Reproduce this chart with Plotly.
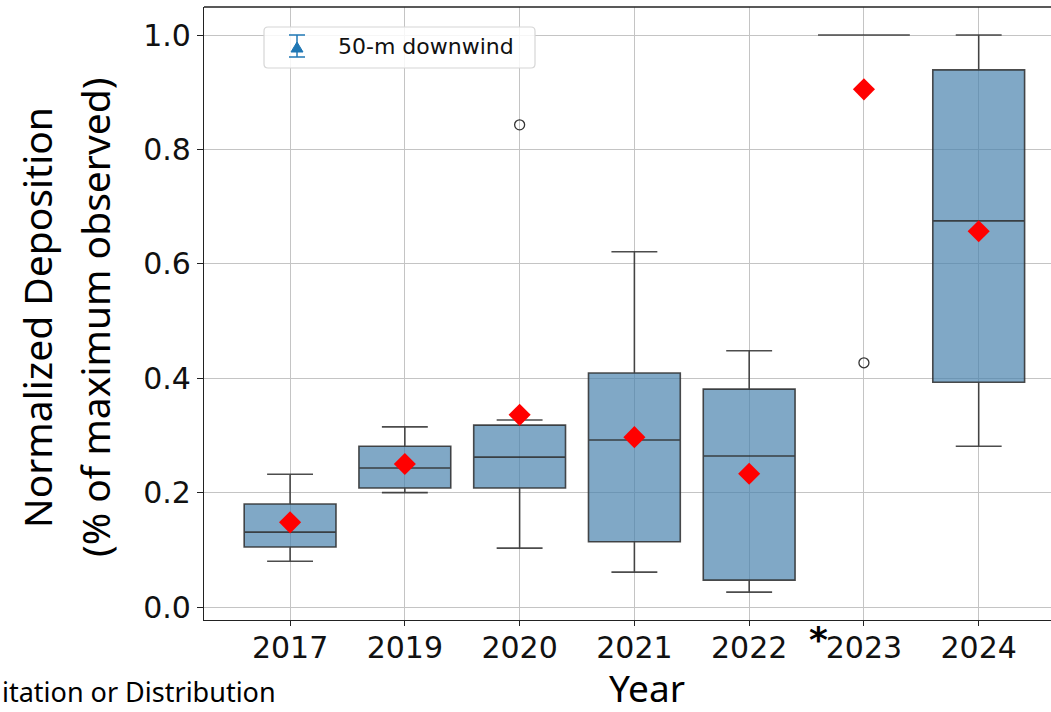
import plotly.graph_objects as go

# Summary statistics of normalized deposition per sampling year
years = ["2017", "2019", "2020", "2021", "2022", "2023", "2024"]
q1 = [0.105, 0.208, 0.208, 0.114, 0.047, 1.0, 0.393]
median = [0.131, 0.243, 0.262, 0.292, 0.264, 1.0, 0.675]
q3 = [0.180, 0.281, 0.318, 0.409, 0.381, 1.0, 0.939]
lower_whisker = [0.080, 0.200, 0.103, 0.061, 0.026, 1.0, 0.281]
upper_whisker = [0.232, 0.315, 0.327, 0.621, 0.448, 1.0, 1.0]
mean_values = [0.148, 0.250, 0.336, 0.297, 0.233, 0.905, 0.657]

# Outlying observations
outlier_years = ["2020", "2023"]
outlier_values = [0.843, 0.427]

y_ticks = [0.0, 0.2, 0.4, 0.6, 0.8, 1.0]

W, H = 1051, 712
M_L, M_R, M_T, M_B = 204, 0, 7, 92
PW, PH = W - M_L - M_R, H - M_T - M_B


def px(x):
    """Canvas pixel column -> paper x."""
    return (x - M_L) / PW


def py(y):
    """Canvas pixel row -> paper y."""
    return (H - M_B - y) / PH


tick_font = dict(family="DejaVu Sans", size=30, color="#111111")
title_font = dict(family="Noto Sans", size=39, color="#000000")
axis_color = "#222222"
legend_blue = "#1f77b4"

fig = go.Figure()

fig.add_trace(go.Box(
    x=years,
    q1=q1,
    median=median,
    q3=q3,
    lowerfence=lower_whisker,
    upperfence=upper_whisker,
    boxpoints=False,
    width=0.8,
    whiskerwidth=0.5,
    fillcolor="rgba(74,131,174,0.7)",
    line=dict(color="rgba(45,45,45,0.85)", width=1.6),
    showlegend=False,
    hoverinfo="skip",
))

fig.add_trace(go.Scatter(
    x=outlier_years,
    y=outlier_values,
    mode="markers",
    marker=dict(symbol="circle-open", size=10, color="#333333", line=dict(width=1.3)),
    showlegend=False,
))

fig.add_trace(go.Scatter(
    x=years,
    y=mean_values,
    mode="markers",
    marker=dict(symbol="diamond", size=17, color="#ff0000", line=dict(width=0)),
    showlegend=False,
))

# Legend box: rounded frame, error-bar glyph with triangle, label
lx0, lx1, ly0, ly1, r = 264, 535, 27, 68, 4
frame = (
    f"M {px(lx0 + r)} {py(ly0)} L {px(lx1 - r)} {py(ly0)} "
    f"Q {px(lx1)} {py(ly0)} {px(lx1)} {py(ly0 + r)} "
    f"L {px(lx1)} {py(ly1 - r)} Q {px(lx1)} {py(ly1)} {px(lx1 - r)} {py(ly1)} "
    f"L {px(lx0 + r)} {py(ly1)} Q {px(lx0)} {py(ly1)} {px(lx0)} {py(ly1 - r)} "
    f"L {px(lx0)} {py(ly0 + r)} Q {px(lx0)} {py(ly0)} {px(lx0 + r)} {py(ly0)} Z"
)
sym_x, cap_top, cap_bot = 297, 35, 57
triangle = (
    f"M {px(sym_x)} {py(42)} L {px(sym_x + 6)} {py(52)} L {px(sym_x - 6)} {py(52)} Z"
)

shapes = [
    # top frame edge of the axes
    dict(type="line", xref="paper", yref="paper", x0=0, x1=1, y0=1, y1=1,
         line=dict(color=axis_color, width=1.3)),
    dict(type="path", xref="paper", yref="paper", path=frame,
         fillcolor="rgba(255,255,255,0.85)", line=dict(color="#d6d6d6", width=1.2)),
    dict(type="line", xref="paper", yref="paper", x0=px(sym_x), x1=px(sym_x),
         y0=py(cap_top), y1=py(cap_bot), line=dict(color=legend_blue, width=1.5)),
    dict(type="line", xref="paper", yref="paper", x0=px(sym_x - 8), x1=px(sym_x + 8),
         y0=py(cap_top), y1=py(cap_top), line=dict(color=legend_blue, width=1.5)),
    dict(type="line", xref="paper", yref="paper", x0=px(sym_x - 8), x1=px(sym_x + 8),
         y0=py(cap_bot), y1=py(cap_bot), line=dict(color=legend_blue, width=1.5)),
    dict(type="path", xref="paper", yref="paper", path=triangle,
         fillcolor=legend_blue, line=dict(color=legend_blue, width=1)),
]

annotations = [
    dict(text="50-m downwind", xref="paper", yref="paper", x=px(336), y=py(46),
         xanchor="left", yanchor="middle", showarrow=False,
         font=dict(family="DejaVu Sans", size=22, color="#111111")),
    dict(text="Normalized Deposition", xref="paper", yref="paper", x=px(36), y=py(318),
         xanchor="center", yanchor="middle", textangle=-90, showarrow=False,
         font=title_font),
    dict(text="(% of maximum observed)", xref="paper", yref="paper", x=px(94), y=py(318),
         xanchor="center", yanchor="middle", textangle=-90, showarrow=False,
         font=title_font),
    dict(text="Year", xref="paper", yref="paper", x=px(647), y=py(687),
         xanchor="center", yanchor="middle", showarrow=False, borderpad=0,
         font=dict(family="Noto Sans", size=37, color="#000000")),
    dict(text="<b>*</b>", xref="paper", yref="paper", x=px(818), y=py(639),
         xanchor="center", yanchor="middle", showarrow=False,
         font=dict(family="DejaVu Sans", size=36, color="#000000")),
    dict(text="itation or Distribution", xref="paper", yref="paper", x=px(0), y=py(692),
         xanchor="left", yanchor="middle", showarrow=False,
         font=dict(family="Noto Sans", size=27, color="#000000")),
]

fig.update_layout(
    width=W,
    height=H,
    margin=dict(l=M_L, r=M_R, t=M_T, b=M_B),
    paper_bgcolor="white",
    plot_bgcolor="white",
    showlegend=False,
    xaxis=dict(
        type="category",
        categoryorder="array",
        categoryarray=years,
        range=[-0.75, 6.63],
        showgrid=True,
        gridcolor="#c4c4c4",
        gridwidth=1,
        showline=True,
        linecolor=axis_color,
        linewidth=1.3,
        ticks="outside",
        ticklen=5,
        tickcolor=axis_color,
        tickfont=tick_font,
        ticklabelstandoff=-4,
        zeroline=False,
    ),
    yaxis=dict(
        range=[-0.0227, 1.049],
        tickvals=y_ticks,
        tickformat=".1f",
        showgrid=True,
        gridcolor="#c4c4c4",
        gridwidth=1,
        showline=True,
        linecolor=axis_color,
        linewidth=1.3,
        ticks="outside",
        ticklen=6,
        tickcolor=axis_color,
        tickfont=tick_font,
        zeroline=False,
    ),
    shapes=shapes,
    annotations=annotations,
)

fig.write_html("out.html")
